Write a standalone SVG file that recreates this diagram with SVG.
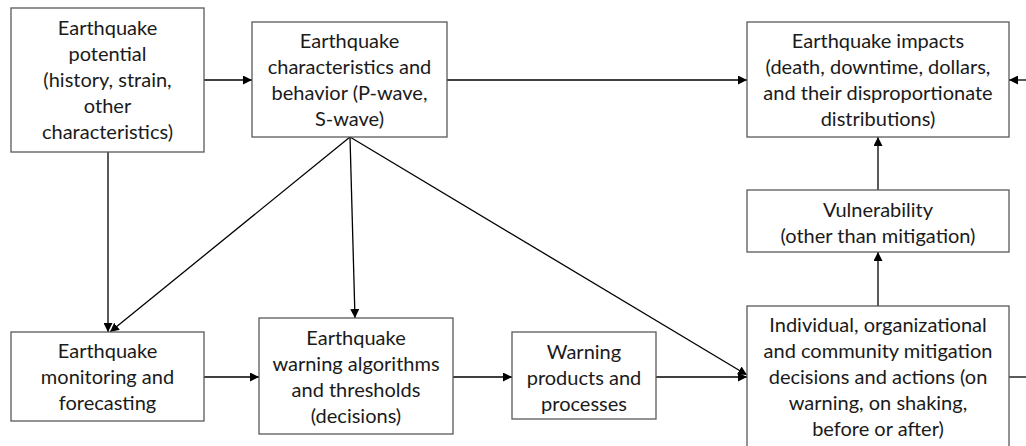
<svg xmlns="http://www.w3.org/2000/svg" width="1026" height="446" viewBox="0 0 1026 446">
<style>
.box{fill:#fff;stroke:#595959;stroke-width:1.3}
.t{font-family:Lato,"Liberation Sans",sans-serif;font-size:20px;fill:#1a1a1a;text-anchor:middle}
.c{fill:none;stroke:#000;stroke-width:1.3}
</style>
<defs>
<marker id="ah" viewBox="0 0 10 10" refX="10" refY="5" markerWidth="9" markerHeight="9" markerUnits="userSpaceOnUse" orient="auto">
<path d="M0,0 L10,5 L0,10 z" fill="#000"/>
</marker>
</defs>
<rect width="1026" height="446" fill="#fff"/>
<g id="connectors">
<line class="c" x1="204" y1="80" x2="252" y2="80" marker-end="url(#ah)"/>
<line class="c" x1="447" y1="80" x2="747" y2="80" marker-end="url(#ah)"/>
<line class="c" x1="1026" y1="80" x2="1009" y2="80" marker-end="url(#ah)"/>
<line class="c" x1="108" y1="152" x2="108" y2="332" marker-end="url(#ah)"/>
<line class="c" x1="350" y1="137" x2="110" y2="332" marker-end="url(#ah)"/>
<line class="c" x1="350" y1="137" x2="355" y2="318" marker-end="url(#ah)"/>
<line class="c" x1="350" y1="137" x2="747" y2="375" marker-end="url(#ah)"/>
<line class="c" x1="204" y1="377" x2="259" y2="377" marker-end="url(#ah)"/>
<line class="c" x1="453" y1="377" x2="512" y2="377" marker-end="url(#ah)"/>
<line class="c" x1="656" y1="377" x2="747" y2="377" marker-end="url(#ah)"/>
<line class="c" x1="878" y1="306" x2="878" y2="252" marker-end="url(#ah)"/>
<line class="c" x1="878" y1="190" x2="878" y2="137" marker-end="url(#ah)"/>
<line class="c" x1="1009" y1="377" x2="1026" y2="377"/>
</g>
<g id="potential">
<rect class="box" x="11" y="8" width="193" height="144"/>
<text class="t" x="107.5" y="35">Earthquake</text>
<text class="t" x="107.5" y="61">potential</text>
<text class="t" x="107.5" y="87">(history, strain,</text>
<text class="t" x="107.5" y="113">other</text>
<text class="t" x="107.5" y="139">characteristics)</text>
</g>
<g id="characteristics">
<rect class="box" x="252" y="22" width="195" height="115"/>
<text class="t" x="349.5" y="48">Earthquake</text>
<text class="t" x="349.5" y="74">characteristics and</text>
<text class="t" x="349.5" y="100">behavior (P-wave,</text>
<text class="t" x="349.5" y="126">S-wave)</text>
</g>
<g id="impacts">
<rect class="box" x="747" y="22" width="262" height="115"/>
<text class="t" x="878" y="48">Earthquake impacts</text>
<text class="t" x="878" y="74">(death, downtime, dollars,</text>
<text class="t" x="878" y="100">and their disproportionate</text>
<text class="t" x="878" y="126">distributions)</text>
</g>
<g id="vulnerability">
<rect class="box" x="747" y="190" width="262" height="62"/>
<text class="t" x="878" y="217">Vulnerability</text>
<text class="t" x="878" y="243">(other than mitigation)</text>
</g>
<g id="mitigation">
<rect class="box" x="747" y="306" width="262" height="160"/>
<text class="t" x="878" y="332">Individual, organizational</text>
<text class="t" x="878" y="358">and community mitigation</text>
<text class="t" x="878" y="384">decisions and actions (on</text>
<text class="t" x="878" y="410">warning, on shaking,</text>
<text class="t" x="878" y="436">before or after)</text>
</g>
<g id="monitoring">
<rect class="box" x="11" y="332" width="193" height="89"/>
<text class="t" x="107.5" y="358">Earthquake</text>
<text class="t" x="107.5" y="384">monitoring and</text>
<text class="t" x="107.5" y="410">forecasting</text>
</g>
<g id="algorithms">
<rect class="box" x="259" y="318" width="194" height="116"/>
<text class="t" x="356" y="345">Earthquake</text>
<text class="t" x="356" y="371">warning algorithms</text>
<text class="t" x="356" y="397">and thresholds</text>
<text class="t" x="356" y="423">(decisions)</text>
</g>
<g id="products">
<rect class="box" x="512" y="332" width="144" height="87"/>
<text class="t" x="584" y="359">Warning</text>
<text class="t" x="584" y="385">products and</text>
<text class="t" x="584" y="411">processes</text>
</g>
</svg>
